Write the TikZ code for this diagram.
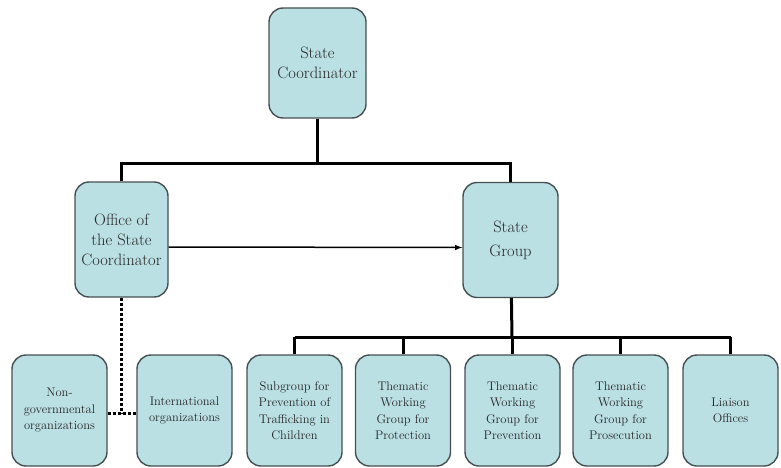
\documentclass[tikz,border=0pt]{standalone}
\usetikzlibrary{positioning}
\definecolor{boxfill}{RGB}{186,224,228}
\definecolor{boxline}{RGB}{70,80,82}
\begin{document}
\begin{tikzpicture}[x=1pt,y=-1pt,
    unit/.style={draw=boxline,line width=1.4pt,fill=boxfill,rounded corners=14pt,
      align=center,text=black!85,inner sep=0pt},
    big/.style={unit,font=\fontsize{16.5}{20}\selectfont},
    small/.style={unit,font=\fontsize{12.5}{16.5}\selectfont,minimum width=95pt,minimum height=111pt},
    bus/.style={line width=3pt},
    link/.style={line width=3pt,dotted}]
        \useasboundingbox (0,0) rectangle (781,468);
        \node(SC)  [big,minimum width=97pt,minimum height=110pt] at (317.5,63) {State\\Coordinator};
        \node(OSC) [big,minimum width=93pt,minimum height=115pt] at (121.5,239.5) {Office of\\the State\\Coordinator};
        \node(SG)  [big,minimum width=95pt,minimum height=115pt] at (510.5,240) {State\\[4pt]Group};
        \node(NGO) [small] at (59.5,410.5) {Non-\\governmental\\organizations};
        \node(IO)  [small] at (184.5,410.5) {International\\organizations};
        \node(SUB) [small] at (294.5,410.5) {Subgroup for\\Prevention of\\Trafficking in\\Children};
        \node(TW1) [small] at (403,410.5) {Thematic\\Working\\Group for\\Protection};
        \node(TW2) [small] at (512.5,410.5) {Thematic\\Working\\Group for\\Prevention};
        \node(TW3) [small] at (620.5,410.5) {Thematic\\Working\\Group for\\Prosecution};
        \node(LO)  [small] at (730.5,410.5) {Liaison\\Offices};
        \coordinate(B1) at (317.5,163);
        \coordinate(B2) at (512,337);
        \coordinate(J)  at (121.5,413);
        \draw[bus](SC) -- (B1);
        \draw[bus](OSC) |- (B1) -| (SG);
        \draw[bus](SG) -- (B2);
        \draw[bus](SUB.north |- B2) -- (LO.north |- B2);
        \foreach \n in {SUB,TW1,TW2,TW3,LO}
            \draw[bus](\n.north |- B2) -- (\n);
        \draw[line width=1.5pt,-latex]([yshift=-7.5pt]OSC.east) -- ([yshift=-7.5pt]SG.west);
        \draw[link](OSC) -- (J);
        \draw[link](NGO.east |- J) -- (IO.west |- J);
    \end{tikzpicture}
\end{document}
